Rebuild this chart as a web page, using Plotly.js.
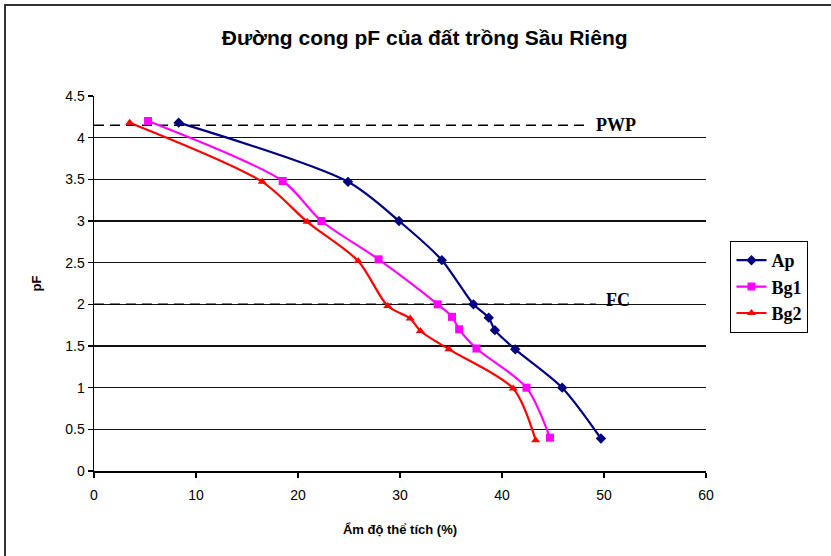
<!DOCTYPE html>
<html>
<head>
<meta charset="utf-8">
<script src="https://cdn.plot.ly/plotly-3.0.1.min.js"></script>
<style>
  html, body { margin: 0; padding: 0; background: #fff; }
  #wrap { position: relative; width: 831px; height: 556px; overflow: hidden; }
  #frame { position: absolute; left: 4px; top: 4px; width: 900px; height: 700px; border-left: 2px solid #333; border-top: 2px solid #333; box-sizing: border-box; pointer-events: none; z-index: 5; }
  #chart { position: absolute; left: 0; top: 0; width: 831px; height: 556px; }
</style>
</head>
<body>
<div id="wrap">
  <div id="chart"></div>
  <div id="frame"></div>
</div>
<script>
// Data
const seriesNames = ["Ap", "Bg1", "Bg2"];
const apX  = [8.3, 24.9, 29.9, 34.1, 37.2, 38.7, 39.3, 41.3, 45.9, 49.7];
const apY  = [4.18, 3.47, 3.0, 2.53, 2.0, 1.84, 1.69, 1.46, 1.0, 0.39];
const bg1X = [5.3, 18.5, 22.3, 27.9, 33.7, 35.1, 35.8, 37.5, 42.4, 44.7];
const bg1Y = [4.2, 3.48, 3.0, 2.54, 2.0, 1.85, 1.7, 1.47, 1.0, 0.4];
const bg2X = [3.5, 16.5, 20.9, 25.9, 28.8, 31.0, 32.0, 34.8, 41.1, 43.3];
const bg2Y = [4.18, 3.47, 2.99, 2.52, 1.98, 1.83, 1.68, 1.46, 0.99, 0.37];

// Reference lines
const refNames = ["PWP", "FC"];
const pwpX = [0, 48.6];
const pwpY = [4.15, 4.15];
const fcX  = [0, 49.2];
const fcY  = [2.0, 2.0];

const xTicks = [0, 10, 20, 30, 40, 50, 60];
const yTicks = [0, 0.5, 1, 1.5, 2, 2.5, 3, 3.5, 4, 4.5];

const titleText = "Đường cong pF của đất trồng Sầu Riêng";
const xTitle = "Ẩm độ thể tích (%)";
const yTitle = "pF";

const colors = ["#000080", "#FF00FF", "#FF0000"];
const symbols = ["diamond", "square", "triangle-up"];
const xs = [apX, bg1X, bg2X];
const ys = [apY, bg1Y, bg2Y];

const traces = [];
[[pwpX, pwpY], [fcX, fcY]].forEach(([x, y]) => {
  traces.push({
    x: x, y: y, mode: "lines", showlegend: false, hoverinfo: "skip",
    line: { color: "#000", width: 1.5, dash: "10px,6px" }
  });
});
seriesNames.forEach((n, i) => {
  traces.push({
    x: xs[i], y: ys[i], name: n, type: "scatter", mode: "lines+markers",
    line: { color: colors[i], width: 2.2, shape: "spline", smoothing: 0.8 },
    marker: { color: colors[i], symbol: symbols[i], size: 8 }
  });
});

const layout = {
  width: 831, height: 556,
  margin: { l: 94, r: 125, t: 96, b: 85 },
  paper_bgcolor: "#fff", plot_bgcolor: "#fff",
  title: {
    text: titleText, x: 0.511, xref: "container", xanchor: "center",
    y: 1 - 38 / 556, yref: "container", yanchor: "middle",
    font: { family: "Liberation Sans, Arial", size: 21, color: "#000", weight: "bold" }
  },
  xaxis: {
    range: [0, 60], tickvals: xTicks, ticktext: xTicks.map(String),
    showgrid: false, zeroline: false, showline: true, linecolor: "#000", linewidth: 1.5,
    ticks: "outside", ticklen: 5, tickcolor: "#000", tickwidth: 1.3,
    ticklabelstandoff: 6,
    tickfont: { family: "Liberation Sans, Arial", size: 14, color: "#000" },
    title: { text: xTitle, standoff: 22,
      font: { family: "Liberation Sans, Arial", size: 13, color: "#000", weight: "bold" } }
  },
  yaxis: {
    range: [0, 4.5], tickvals: yTicks, ticktext: yTicks.map(String),
    showgrid: true, gridcolor: "#111", gridwidth: 1.5, zeroline: false,
    showline: true, linecolor: "#000", linewidth: 1.5,
    ticks: "outside", ticklen: 5, tickcolor: "#000", tickwidth: 1.3,
    tickfont: { family: "Liberation Sans, Arial", size: 14, color: "#000" },
    title: { text: yTitle, standoff: 20,
      font: { family: "Liberation Sans, Arial", size: 13, color: "#000", weight: "bold" } }
  },
  legend: {
    x: 1.04, xanchor: "left", y: (471 - 241) / 375, yanchor: "top",
    bordercolor: "#000", borderwidth: 1, bgcolor: "#fff",
    font: { family: "Liberation Serif, Times New Roman", size: 18, color: "#000", weight: "bold" },
    tracegroupgap: 0, itemwidth: 30
  },
  annotations: [
    { x: pwpX[1], y: pwpY[0], xref: "x", yref: "y", text: refNames[0], showarrow: false,
      xanchor: "left", yanchor: "middle", xshift: 4,
      font: { family: "Liberation Serif, Times New Roman", size: 18, color: "#000", weight: "bold" } },
    { x: fcX[1], y: fcY[0], xref: "x", yref: "y", text: refNames[1], showarrow: false,
      xanchor: "left", yanchor: "middle", xshift: 8, yshift: 4,
      font: { family: "Liberation Serif, Times New Roman", size: 18, color: "#000", weight: "bold" } }
  ]
};

Plotly.newPlot("chart", traces, layout, { displayModeBar: false, staticPlot: true });
</script>
</body>
</html>
